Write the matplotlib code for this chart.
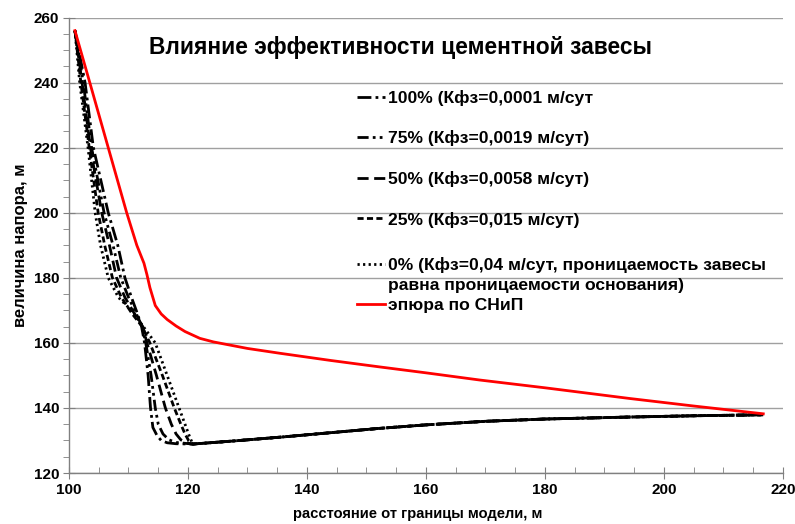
import numpy as np
import matplotlib.pyplot as plt
from matplotlib.lines import Line2D

plt.rcParams['font.family'] = ['Liberation Sans', 'DejaVu Sans']
plt.rcParams['font.weight'] = 'bold'

# common rising tail after the minimum (all curtain cases coincide here)
tail_x = [120.8, 128, 136, 144, 152, 160, 170, 180, 194, 205, 216.7]
tail_y = [128.9, 129.9, 131.1, 132.4, 133.7, 134.8, 135.9, 136.6, 137.2, 137.6, 137.9]

# head part of each curve, from the upstream boundary down to the minimum
x100 = [101, 102.7, 104.1, 106.6, 108.2, 109.4, 110.5, 111.5, 112.2, 112.7, 113.3, 113.7, 114.1, 114.8, 115.5, 116.5, 118.0]
y100 = [256, 240, 220, 200, 190, 180, 174, 169, 165, 160, 150, 140, 134, 131.5, 130.0, 129.3, 129.0]

x75 = [101, 102.4, 103.8, 105.9, 107.4, 108.7, 110.0, 111.3, 112.3, 112.9, 113.8, 114.5, 115.0, 115.8, 116.8, 118.0]
y75 = [256, 240, 220, 200, 190, 180, 174, 169, 165, 160, 150, 140, 135, 132, 130.2, 129.4]

x50 = [101, 102.2, 103.6, 105.5, 106.8, 108.0, 109.4, 111.0, 112.4, 113.1, 114.7, 116.2, 117.2, 118.0, 118.8, 119.8]
y50 = [256, 240, 220, 200, 190, 180, 174, 169, 165, 160, 150, 140, 135, 132, 130.2, 129.3]

x25 = [101, 102.0, 103.4, 104.9, 106.0, 107.3, 108.8, 110.6, 112.3, 113.6, 115.7, 117.7, 118.8, 119.5, 120.1]
y25 = [256, 240, 220, 200, 190, 180, 174, 169, 165, 160, 150, 140, 135, 132, 130]

x0 = [101, 101.8, 103.2, 104.4, 105.3, 106.6, 108.3, 110.5, 112.5, 114.5, 116.5, 118.5, 119.5, 120.2]
y0 = [256, 240, 220, 200, 190, 180, 174, 170, 165, 160, 150, 140, 135, 131.5]

# SNiP pressure diagram
x_snip = [101, 103.5, 106.6, 109.7, 111.4, 112.6, 113.1, 113.6, 114.5, 115.5, 116.5, 118.0, 119.5, 122.0, 124.3,
          130, 135.5, 144, 152.3, 160, 169, 180, 194.3, 205, 216.7]
y_snip = [256, 240, 220, 200, 190, 184.5, 181, 177, 171.5, 168.9, 167.2, 165.2, 163.5, 161.4, 160.3,
          158.3, 156.8, 154.6, 152.6, 150.8, 148.6, 146.2, 142.9, 140.6, 138.2]

labels = ['100% (Кфз=0,0001 м/сут',
          '75% (Кфз=0,0019 м/сут)',
          '50% (Кфз=0,0058 м/сут)',
          '25% (Кфз=0,015 м/сут)',
          '0% (Кфз=0,04 м/сут, проницаемость завесы',
          'равна проницаемости основания)',
          'эпюра по СНиП']

fig = plt.figure(figsize=(7.95, 5.24), dpi=100)
ax = fig.add_axes([0.0868, 0.0973, 0.898, 0.869])

lw = 2.0
styles = [(0, (5, 1.5, 1, 1.5)),
          (0, (4, 1.5, 1, 1.5, 1, 1.5)),
          (0, (4, 2)),
          (0, (2.2, 1.2)),
          (0, (0.8, 1.2))]
curves = [(x100, y100), (x75, y75), (x50, y50), (x25, y25), (x0, y0)]
handles = []
for (cx, cy), ls in zip(curves, styles):
    h, = ax.plot(cx + tail_x, cy + tail_y, color='black', lw=lw, linestyle=ls)
    handles.append(h)

red, = ax.plot(x_snip, y_snip, color='#ff0000', lw=2.0)

ax.set_xlim(100, 220)
ax.set_ylim(120, 260)
ax.set_xticks(np.arange(100, 221, 20))
ax.set_yticks(np.arange(120, 261, 20))
ax.set_xticks(np.arange(100, 221, 5), minor=True)
ax.set_yticks(np.arange(120, 261, 5), minor=True)
ax.grid(axis='y', which='major', color='#a0a0a0', lw=1.0)
ax.set_axisbelow(True)
for s in ['top', 'right']:
    ax.spines[s].set_visible(False)
for s in ['left', 'bottom']:
    ax.spines[s].set_color('#808080')
    ax.spines[s].set_linewidth(1.0)
ax.tick_params(which='major', direction='inout', length=8, color='#808080', labelsize=11, pad=3)
ax.tick_params(which='minor', direction='out', length=4, color='#808080')
ax.tick_params(axis='x', which='minor', direction='in')
for t in ax.get_xticklabels() + ax.get_yticklabels():
    t.set_fontweight('bold')

ax.set_xlabel('расстояние от границы модели, м', fontsize=10.6, fontweight='bold')
ax.xaxis.set_label_coords(0.489, -0.075)
ax.set_ylabel('величина напора, м', fontsize=12, fontweight='bold', labelpad=4)
ax.text(0.465, 0.935, 'Влияние эффективности цементной завесы', transform=ax.transAxes,
        ha='center', va='center', fontsize=16.4, fontweight='bold')

fs = 12.6
blank = Line2D([], [], color='none')
leg1 = ax.legend(handles[:4], labels[:4], loc='upper left',
                 bbox_to_anchor=(357 / 795, 1 - 90 / 524), bbox_transform=fig.transFigure,
                 frameon=False, fontsize=fs, handlelength=1.6, handletextpad=0.2,
                 labelspacing=1.4, borderpad=0, borderaxespad=0)
for t in leg1.get_texts():
    t.set_fontweight('bold')
ax.add_artist(leg1)
leg2 = ax.legend([handles[4], blank, red], labels[4:], loc='upper left',
                 bbox_to_anchor=(357 / 795, 1 - 257 / 524), bbox_transform=fig.transFigure,
                 frameon=False, fontsize=fs, handlelength=1.6, handletextpad=0.2,
                 labelspacing=0.28, borderpad=0, borderaxespad=0)
for t in leg2.get_texts():
    t.set_fontweight('bold')

fig.savefig('out.png', dpi=100)
